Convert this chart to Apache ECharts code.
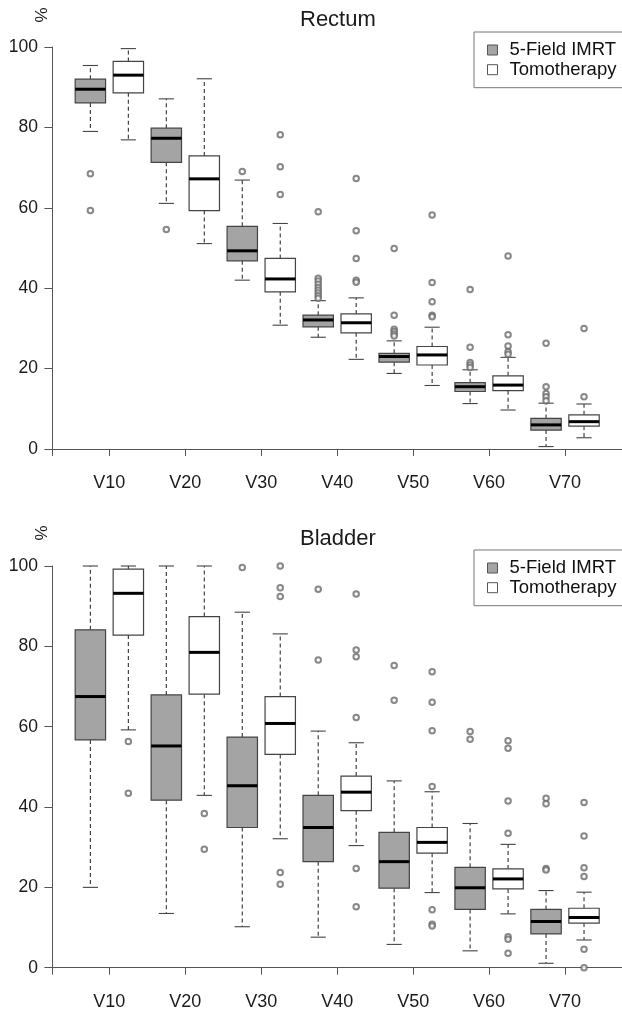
<!DOCTYPE html>
<html>
<head>
<meta charset="utf-8">
<script src="https://cdn.jsdelivr.net/npm/echarts@6/dist/echarts.min.js"></script>
<style>
html,body{margin:0;padding:0;background:#fff;}
#chart{width:622px;height:1012px;}
</style>
</head>
<body>
<div id="chart"></div>
<script>
// ---- data ----
const categories = ['V10', 'V20', 'V30', 'V40', 'V50', 'V60', 'V70'];
const yTicks = [0, 20, 40, 60, 80, 100];
const seriesNames = ['5-Field IMRT', 'Tomotherapy'];

// [lower whisker, Q1, median, Q3, upper whisker]
const rectumIMRT = [
  [79.0, 86.1, 89.5, 92.0, 95.4],
  [61.1, 71.3, 77.3, 79.8, 87.1],
  [42.0, 46.8, 49.3, 55.4, 66.9],
  [27.8, 30.4, 32.1, 33.3, 36.9],
  [18.8, 21.6, 23.0, 23.8, 26.9],
  [11.3, 14.3, 15.5, 16.5, 19.7],
  [0.6, 4.7, 6.0, 7.6, 11.4]
];
const rectumTomo = [
  [76.9, 88.6, 93.0, 96.4, 99.6],
  [51.1, 59.3, 67.2, 72.9, 92.1],
  [30.8, 39.1, 42.3, 47.4, 56.1],
  [22.3, 28.9, 31.4, 33.6, 37.6],
  [15.8, 20.9, 23.4, 25.5, 30.3],
  [9.7, 14.5, 15.9, 18.2, 22.8],
  [2.8, 5.7, 6.8, 8.5, 11.2]
];
const rectumIMRTOutliers = [
  [68.5, 59.3],
  [54.6],
  [69.0],
  [59.0, 42.5, 41.8, 41.0, 40.2, 39.5, 38.8, 38.1, 37.5],
  [49.9, 33.3, 29.8, 29.2, 28.6, 28.1],
  [39.7, 25.3, 21.5, 20.9, 20.3],
  [26.3, 15.5, 13.8, 13.0, 12.0]
];
const rectumTomoOutliers = [
  [],
  [],
  [78.2, 70.2, 63.3],
  [67.3, 54.3, 47.4, 42.0, 41.5],
  [58.2, 41.4, 36.6, 33.3, 32.9],
  [48.0, 28.4, 25.6, 24.2, 23.6],
  [30.0, 13.0]
];

const bladderIMRT = [
  [20.0, 56.7, 67.5, 84.1, 100],
  [13.5, 41.7, 55.2, 67.9, 100],
  [10.2, 34.9, 45.3, 57.4, 88.5],
  [7.6, 26.4, 34.9, 42.9, 58.9],
  [5.8, 19.8, 26.4, 33.7, 46.5],
  [4.2, 14.5, 19.9, 25.0, 35.9],
  [1.1, 8.4, 11.5, 14.5, 19.2]
];
const bladderTomo = [
  [59.2, 82.8, 93.2, 99.2, 100],
  [42.9, 68.1, 78.5, 87.4, 100],
  [32.1, 53.1, 60.8, 67.5, 83.1],
  [30.4, 39.1, 43.7, 47.7, 56.0],
  [18.7, 28.5, 31.2, 34.9, 43.8],
  [13.4, 19.6, 22.1, 24.6, 30.7],
  [6.9, 11.1, 12.5, 14.8, 18.8]
];
const bladderIMRTOutliers = [
  [],
  [],
  [99.6],
  [94.2, 76.6],
  [75.2, 66.6],
  [58.8, 56.9],
  [42.2, 40.8, 24.7, 24.3]
];
const bladderTomoOutliers = [
  [56.3, 43.4],
  [38.4, 29.5],
  [100, 94.6, 92.4, 23.7, 20.8],
  [93.0, 79.1, 77.4, 62.3, 24.7, 15.2],
  [73.7, 66.1, 59.0, 45.1, 14.4, 10.8, 10.4],
  [56.5, 54.6, 41.5, 33.5, 7.7, 7.1, 3.6],
  [41.1, 32.8, 24.9, 22.7, 4.6, 0.0]
];

// ---- helpers ----
const FONT = '"Liberation Sans", Arial, Helvetica, sans-serif';
const GRAY = '#a4a4a4';
const EDGE = '#444';
const labelPositions = categories.map((c, i) => 2 * i + 1.5);
const tickPositions = [0].concat(labelPositions, [15]);

function boxData(stats, offset) {
  return stats.map((s, i) => [2 * i + 1 + offset].concat(s));
}
function outlierData(outs, offset) {
  const res = [];
  outs.forEach((list, i) => list.forEach(v => res.push([2 * i + 1 + offset, v])));
  return res;
}
function boxRenderer(fill) {
  return function (params, api) {
    const x = api.value(0);
    const lo = api.coord([x, api.value(1)]);
    const q1 = api.coord([x, api.value(2)]);
    const md = api.coord([x, api.value(3)]);
    const q3 = api.coord([x, api.value(4)]);
    const hi = api.coord([x, api.value(5)]);
    const w = api.size([0.8, 0])[0];
    const cw = api.size([0.4, 0])[0];
    const cx = lo[0];
    const dash = { stroke: '#333', lineWidth: 1.1, lineDash: [4, 3] };
    const solid = { stroke: EDGE, lineWidth: 1.1 };
    return {
      type: 'group',
      children: [
        { type: 'line', shape: { x1: cx, y1: q3[1], x2: cx, y2: hi[1] }, style: dash },
        { type: 'line', shape: { x1: cx, y1: q1[1], x2: cx, y2: lo[1] }, style: dash },
        { type: 'line', shape: { x1: cx - cw / 2, y1: hi[1], x2: cx + cw / 2, y2: hi[1] }, style: solid },
        { type: 'line', shape: { x1: cx - cw / 2, y1: lo[1], x2: cx + cw / 2, y2: lo[1] }, style: solid },
        { type: 'rect', shape: { x: cx - w / 2, y: q3[1], width: w, height: q1[1] - q3[1] },
          style: { fill: fill, stroke: EDGE, lineWidth: 1.2 } },
        { type: 'line', shape: { x1: cx - w / 2, y1: md[1], x2: cx + w / 2, y2: md[1] },
          style: { stroke: '#000', lineWidth: 3 } }
      ]
    };
  };
}

function makeGrid(top, bottom) {
  return { left: 52.4, right: -2.6, top: top, bottom: bottom, containLabel: false };
}
function makeXAxis(gridIndex, offset) {
  return {
    type: 'value', gridIndex: gridIndex, min: 0, max: 15, offset: offset,
    splitLine: { show: false },
    axisLine: { show: true, lineStyle: { color: '#555', width: 1 } },
    axisTick: { show: true, length: 7, customValues: tickPositions, lineStyle: { color: '#555' } },
    axisLabel: {
      customValues: labelPositions, margin: 9, fontSize: 18, color: '#1a1a1a', fontFamily: FONT,
      formatter: v => categories[Math.round((v - 1.5) / 2)] || ''
    }
  };
}
function makeYAxis(gridIndex) {
  return {
    type: 'value', gridIndex: gridIndex, min: 0, max: 100, interval: 20, offset: 2.4,
    splitLine: { show: false },
    axisLine: { show: true, lineStyle: { color: '#555', width: 1 } },
    axisTick: { show: true, length: 8, lineStyle: { color: '#555' } },
    axisLabel: { margin: 12, fontSize: 17.5, color: '#1a1a1a', fontFamily: FONT }
  };
}
function makeLegend(top) {
  return {
    left: 474, top: top, orient: 'vertical', itemWidth: 10, itemHeight: 10, itemGap: 0.7,
    padding: [8.5, 10, 8.5, 13], borderColor: '#777', borderWidth: 1, selectedMode: false,
    textStyle: { fontSize: 18.5, lineHeight: 16, color: '#111', fontFamily: FONT, padding: [0, 0, 0, 7] },
    data: [
      { name: seriesNames[0], icon: 'rect', itemStyle: { color: GRAY, borderColor: '#555', borderWidth: 1 } },
      { name: seriesNames[1], icon: 'rect', itemStyle: { color: '#fff', borderColor: '#555', borderWidth: 1 } }
    ]
  };
}
function makeSeries(gridIndex, imrt, tomo, imrtOut, tomoOut) {
  const base = { xAxisIndex: gridIndex, yAxisIndex: gridIndex };
  const sc = {
    type: 'scatter', symbol: 'emptyCircle', symbolSize: 5.5, clip: false,
    itemStyle: { color: '#6a6a6a', borderWidth: 1 }
  };
  return [
    Object.assign({ type: 'custom', name: seriesNames[0], clip: false, renderItem: boxRenderer(GRAY),
      itemStyle: { color: GRAY }, encode: { x: 0, y: [1, 2, 3, 4, 5] }, data: boxData(imrt, 0) }, base),
    Object.assign({ type: 'custom', name: seriesNames[1], clip: false, renderItem: boxRenderer('#fff'),
      itemStyle: { color: '#fff' }, encode: { x: 0, y: [1, 2, 3, 4, 5] }, data: boxData(tomo, 1) }, base),
    Object.assign({}, sc, base, { name: seriesNames[0], data: outlierData(imrtOut, 0) }),
    Object.assign({}, sc, base, { name: seriesNames[1], data: outlierData(tomoOut, 1) })
  ];
}

const chart = echarts.init(document.getElementById('chart'), null, { renderer: 'canvas' });
chart.setOption({
  animation: false,
  backgroundColor: '#fff',
  title: [
    { text: 'Rectum', left: 300, top: 9, padding: 0,
      textStyle: { fontSize: 22, fontWeight: 'normal', color: '#1a1a1a', fontFamily: FONT } },
    { text: 'Bladder', left: 300, top: 528, padding: 0,
      textStyle: { fontSize: 22, fontWeight: 'normal', color: '#1a1a1a', fontFamily: FONT } }
  ],
  legend: [makeLegend(32), makeLegend(550)],
  grid: [makeGrid(47, 1012 - 449), makeGrid(566, 1012 - 967.7)],
  xAxis: [makeXAxis(0, 16), makeXAxis(1, 16.6)],
  yAxis: [makeYAxis(0), makeYAxis(1)],
  graphic: [
    { type: 'text', x: 42, y: 15, rotation: Math.PI / 2,
      style: { text: '%', fontSize: 17, fill: '#1a1a1a', font: '17px ' + FONT, align: 'center', verticalAlign: 'middle' } },
    { type: 'text', x: 42, y: 533, rotation: Math.PI / 2,
      style: { text: '%', fontSize: 17, fill: '#1a1a1a', font: '17px ' + FONT, align: 'center', verticalAlign: 'middle' } }
  ],
  series: [].concat(
    makeSeries(0, rectumIMRT, rectumTomo, rectumIMRTOutliers, rectumTomoOutliers),
    makeSeries(1, bladderIMRT, bladderTomo, bladderIMRTOutliers, bladderTomoOutliers)
  )
});
</script>
</body>
</html>
